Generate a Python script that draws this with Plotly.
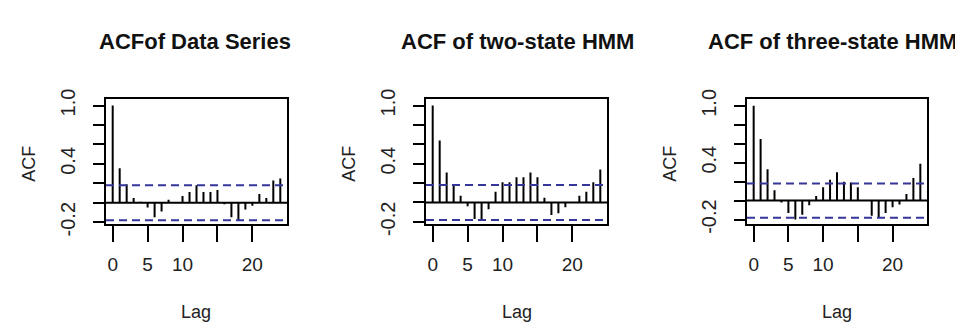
import plotly.graph_objects as go

lags = list(range(25))
acf_data = [1.0, 0.355, 0.19, 0.05, 0.01, -0.05, -0.15, -0.09, 0.03, 0.0, 0.07, 0.11,
            0.18, 0.11, 0.11, 0.13, -0.015, -0.15, -0.18, -0.07, -0.03, 0.09, 0.05, 0.23, 0.25]
acf_two = [1.0, 0.64, 0.31, 0.18, 0.07, -0.04, -0.17, -0.18, -0.07, 0.11, 0.21, 0.21,
           0.26, 0.26, 0.31, 0.26, 0.05, -0.13, -0.11, -0.05, 0.0, 0.07, 0.11, 0.21, 0.34]
acf_three = [1.0, 0.65, 0.33, 0.11, -0.02, -0.13, -0.20, -0.15, -0.05, 0.05, 0.14, 0.22,
             0.30, 0.20, 0.19, 0.14, 0.0, -0.16, -0.18, -0.13, -0.07, -0.04, 0.07, 0.24, 0.39]
series = [acf_data, acf_two, acf_three]
titles = ["ACFof Data Series", "ACF of two-state HMM", "ACF of three-state HMM"]
clim = 0.18
xtick_vals = [0, 5, 10, 15, 20]
xtick_text = ["0", "5", "10", "", "20"]
ytick_vals = [-0.2, 0.0, 0.2, 0.4, 0.6, 0.8, 1.0]
ytick_text = ["-0.2", "", "", "0.4", "", "", "1.0"]
yranges = [[-0.222, 1.065], [-0.225, 1.065], [-0.25, 1.07]]

W, H = 963, 331
xdom_px = [(98, 279), (418, 599), (739, 919)]
ydom_px = (87, 221)
ylab_px = [21, 341, 662]
title_cx = [187, 509, 824]

fig = go.Figure()
for i, vals in enumerate(series):
    xs, ys = [], []
    for k, v in zip(lags, vals):
        xs += [k, k, None]
        ys += [0, v, None]
    sfx = "" if i == 0 else str(i + 1)
    fig.add_trace(go.Scatter(x=xs, y=ys, mode="lines", line=dict(color="black", width=2),
                             xaxis="x" + sfx, yaxis="y" + sfx, showlegend=False, hoverinfo="skip"))
    xd = [xdom_px[i][0] / W, xdom_px[i][1] / W]
    yd = [1 - ydom_px[1] / H, 1 - ydom_px[0] / H]
    fig.layout["xaxis" + sfx] = dict(domain=xd, anchor="y" + sfx, range=[-0.96, 24.96],
                                     tickvals=xtick_vals, ticktext=xtick_text, ticks="outside",
                                     ticklen=16, tickwidth=2, tickcolor="black",
                                     showline=True, linecolor="black", linewidth=2, mirror=True,
                                     showgrid=False, zeroline=False, ticklabelstandoff=6,
                                     tickfont=dict(family="Liberation Sans", size=19, color="#222"))
    fig.layout["yaxis" + sfx] = dict(domain=yd, anchor="x" + sfx, range=yranges[i],
                                     tickvals=ytick_vals, ticktext=ytick_text, ticks="outside",
                                     ticklen=11, tickwidth=2, tickcolor="black", tickangle=-90,
                                     showline=True, linecolor="black", linewidth=2, mirror=True,
                                     showgrid=False, zeroline=False, ticklabelstandoff=10,
                                     tickfont=dict(family="Liberation Sans", size=20, color="#222"))
    xref = "x" + sfx
    yref = "y" + sfx
    fig.add_shape(type="line", xref=xref + " domain", yref=yref, x0=0, x1=1, y0=0, y1=0,
                  line=dict(color="black", width=2))
    for c in (clim, -clim):
        fig.add_shape(type="line", xref=xref + " domain", yref=yref, x0=0, x1=1, y0=c, y1=c,
                      line=dict(color="#35359a", width=2, dash="8px,5px"))
    xc = title_cx[i] / W
    fig.add_annotation(text="<b>" + titles[i] + "</b>", xref="paper", yref="paper", x=xc, y=1 - 25 / H,
                       xanchor="center", yanchor="middle", showarrow=False,
                       font=dict(family="Liberation Sans", size=22, color="#111"))
    fig.add_annotation(text="Lag", xref="paper", yref="paper", x=(xd[0] + xd[1]) / 2, y=1 - 315 / H,
                       xanchor="center", yanchor="middle", showarrow=False,
                       font=dict(family="Liberation Sans", size=18, color="#222"))
    fig.add_annotation(text="ACF", xref="paper", yref="paper", x=ylab_px[i] / W, y=1 - 156 / H,
                       xanchor="center", yanchor="middle", showarrow=False, textangle=-90,
                       font=dict(family="Liberation Sans", size=18, color="#222"))

fig.update_layout(width=W, height=H, margin=dict(l=0, r=0, t=0, b=0),
                  paper_bgcolor="white", plot_bgcolor="white")
fig.write_html("out.html")
